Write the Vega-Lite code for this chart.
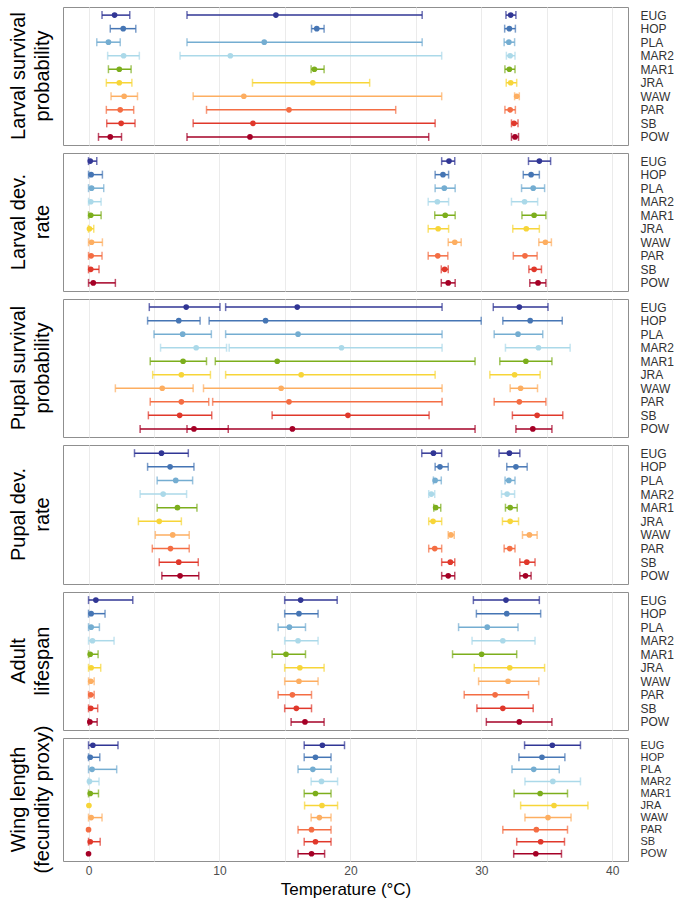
{
  "$schema": "https://vega.github.io/schema/vega-lite/v6.json",
  "padding": {"left": 8, "top": 6, "right": 0, "bottom": 0},
  "spacing": 8,
  "bounds": "flush",
  "config": {
    "font": "Liberation Sans",
    "view": {"stroke": "#8f8f8f", "strokeWidth": 1},
    "title": {"fontWeight": "normal", "color": "#000000", "fontSize": 20, "lineHeight": 24, "font": "Liberation Sans"}
  },
  "data": {"values": [
    {"p":"LS","pop":"EUG","lo":1.03,"mid":1.99,"hi":3.15},{"p":"LS","pop":"EUG","lo":7.52,"mid":14.31,"hi":25.48},{"p":"LS","pop":"EUG","lo":31.88,"mid":32.24,"hi":32.64},
    {"p":"LS","pop":"HOP","lo":1.66,"mid":2.65,"hi":3.61},{"p":"LS","pop":"HOP","lo":17.03,"mid":17.43,"hi":17.99},{"p":"LS","pop":"HOP","lo":31.78,"mid":32.14,"hi":32.6},
    {"p":"LS","pop":"PLA","lo":0.63,"mid":1.52,"hi":2.42},{"p":"LS","pop":"PLA","lo":7.52,"mid":13.42,"hi":25.48},{"p":"LS","pop":"PLA","lo":31.74,"mid":32.1,"hi":32.54},
    {"p":"LS","pop":"MAR2","lo":1.46,"mid":2.68,"hi":3.88},{"p":"LS","pop":"MAR2","lo":6.99,"mid":10.83,"hi":26.97},{"p":"LS","pop":"MAR2","lo":31.91,"mid":32.2,"hi":32.57},
    {"p":"LS","pop":"MAR1","lo":1.52,"mid":2.35,"hi":3.25},{"p":"LS","pop":"MAR1","lo":17.0,"mid":17.25,"hi":17.99},{"p":"LS","pop":"MAR1","lo":31.8,"mid":32.14,"hi":32.57},
    {"p":"LS","pop":"JRA","lo":1.36,"mid":2.35,"hi":3.31},{"p":"LS","pop":"JRA","lo":12.52,"mid":17.13,"hi":21.47},{"p":"LS","pop":"JRA","lo":31.9,"mid":32.24,"hi":32.7},
    {"p":"LS","pop":"WAW","lo":1.72,"mid":2.72,"hi":3.74},{"p":"LS","pop":"WAW","lo":7.99,"mid":11.86,"hi":26.97},{"p":"LS","pop":"WAW","lo":32.54,"mid":32.7,"hi":32.9},
    {"p":"LS","pop":"PAR","lo":1.36,"mid":2.42,"hi":3.45},{"p":"LS","pop":"PAR","lo":9.01,"mid":15.31,"hi":23.46},{"p":"LS","pop":"PAR","lo":31.8,"mid":32.2,"hi":32.6},
    {"p":"LS","pop":"SB","lo":1.39,"mid":2.49,"hi":3.55},{"p":"LS","pop":"SB","lo":7.99,"mid":12.56,"hi":26.47},{"p":"LS","pop":"SB","lo":32.3,"mid":32.5,"hi":32.8},
    {"p":"LS","pop":"POW","lo":0.76,"mid":1.66,"hi":2.52},{"p":"LS","pop":"POW","lo":7.52,"mid":12.33,"hi":25.98},{"p":"LS","pop":"POW","lo":32.3,"mid":32.57,"hi":32.84},

    {"p":"LD","pop":"EUG","lo":0,"mid":0.13,"hi":0.63},{"p":"LD","pop":"EUG","lo":26.97,"mid":27.53,"hi":27.97},{"p":"LD","pop":"EUG","lo":33.6,"mid":34.43,"hi":35.29},
    {"p":"LD","pop":"HOP","lo":0,"mid":0.2,"hi":1.06},{"p":"LD","pop":"HOP","lo":26.47,"mid":27.07,"hi":27.5},{"p":"LD","pop":"HOP","lo":33.2,"mid":33.8,"hi":34.43},
    {"p":"LD","pop":"PLA","lo":0,"mid":0.23,"hi":1.16},{"p":"LD","pop":"PLA","lo":26.47,"mid":27.17,"hi":28.0},{"p":"LD","pop":"PLA","lo":33.07,"mid":33.96,"hi":34.83},
    {"p":"LD","pop":"MAR2","lo":0,"mid":0.17,"hi":0.96},{"p":"LD","pop":"MAR2","lo":25.94,"mid":26.64,"hi":27.5},{"p":"LD","pop":"MAR2","lo":32.3,"mid":33.3,"hi":34.3},
    {"p":"LD","pop":"MAR1","lo":0,"mid":0.17,"hi":0.96},{"p":"LD","pop":"MAR1","lo":26.44,"mid":27.24,"hi":28.0},{"p":"LD","pop":"MAR1","lo":33.1,"mid":34.03,"hi":34.93},
    {"p":"LD","pop":"JRA","lo":0,"mid":0.07,"hi":0.4},{"p":"LD","pop":"JRA","lo":25.94,"mid":26.7,"hi":27.5},{"p":"LD","pop":"JRA","lo":32.4,"mid":33.43,"hi":34.43},
    {"p":"LD","pop":"WAW","lo":0,"mid":0.23,"hi":1.06},{"p":"LD","pop":"WAW","lo":27.47,"mid":27.97,"hi":28.46},{"p":"LD","pop":"WAW","lo":34.39,"mid":34.89,"hi":35.35},
    {"p":"LD","pop":"PAR","lo":0,"mid":0.2,"hi":1.03},{"p":"LD","pop":"PAR","lo":25.94,"mid":26.67,"hi":27.44},{"p":"LD","pop":"PAR","lo":32.44,"mid":33.33,"hi":34.26},
    {"p":"LD","pop":"SB","lo":0,"mid":0.17,"hi":0.8},{"p":"LD","pop":"SB","lo":26.94,"mid":27.2,"hi":27.47},{"p":"LD","pop":"SB","lo":33.63,"mid":34.03,"hi":34.59},
    {"p":"LD","pop":"POW","lo":0,"mid":0.36,"hi":2.05},{"p":"LD","pop":"POW","lo":26.94,"mid":27.47,"hi":28.0},{"p":"LD","pop":"POW","lo":33.7,"mid":34.33,"hi":34.93},

    {"p":"PS","pop":"EUG","lo":4.64,"mid":7.46,"hi":10.04},{"p":"PS","pop":"EUG","lo":10.47,"mid":15.94,"hi":27.0},{"p":"PS","pop":"EUG","lo":30.91,"mid":32.9,"hi":35.09},
    {"p":"PS","pop":"HOP","lo":4.51,"mid":6.89,"hi":8.52},{"p":"PS","pop":"HOP","lo":9.21,"mid":13.52,"hi":29.99},{"p":"PS","pop":"HOP","lo":31.64,"mid":33.73,"hi":36.18},
    {"p":"PS","pop":"PLA","lo":5.0,"mid":7.19,"hi":9.38},{"p":"PS","pop":"PLA","lo":10.47,"mid":16.0,"hi":27.0},{"p":"PS","pop":"PLA","lo":30.98,"mid":32.8,"hi":34.69},
    {"p":"PS","pop":"MAR2","lo":5.5,"mid":8.22,"hi":10.54},{"p":"PS","pop":"MAR2","lo":10.74,"mid":19.32,"hi":27.0},{"p":"PS","pop":"MAR2","lo":31.84,"mid":34.36,"hi":36.78},
    {"p":"PS","pop":"MAR1","lo":4.71,"mid":7.22,"hi":9.01},{"p":"PS","pop":"MAR1","lo":9.68,"mid":14.41,"hi":29.52},{"p":"PS","pop":"MAR1","lo":31.41,"mid":33.4,"hi":35.39},
    {"p":"PS","pop":"JRA","lo":4.9,"mid":7.09,"hi":9.31},{"p":"PS","pop":"JRA","lo":10.47,"mid":16.24,"hi":26.47},{"p":"PS","pop":"JRA","lo":30.65,"mid":32.54,"hi":34.49},
    {"p":"PS","pop":"WAW","lo":2.05,"mid":5.63,"hi":7.99},{"p":"PS","pop":"WAW","lo":8.78,"mid":14.71,"hi":27.0},{"p":"PS","pop":"WAW","lo":32.2,"mid":33.0,"hi":34.29},
    {"p":"PS","pop":"PAR","lo":4.71,"mid":7.09,"hi":9.18},{"p":"PS","pop":"PAR","lo":9.48,"mid":15.31,"hi":27.0},{"p":"PS","pop":"PAR","lo":30.98,"mid":32.9,"hi":34.93},
    {"p":"PS","pop":"SB","lo":4.57,"mid":6.96,"hi":9.41},{"p":"PS","pop":"SB","lo":14.02,"mid":19.81,"hi":26.01},{"p":"PS","pop":"SB","lo":32.37,"mid":34.26,"hi":36.22},
    {"p":"PS","pop":"POW","lo":3.94,"mid":8.05,"hi":10.67},{"p":"PS","pop":"POW","lo":7.52,"mid":15.57,"hi":29.52},{"p":"PS","pop":"POW","lo":32.64,"mid":33.93,"hi":35.39},

    {"p":"PD","pop":"EUG","lo":3.51,"mid":5.57,"hi":7.62},{"p":"PD","pop":"EUG","lo":25.45,"mid":26.34,"hi":26.97},{"p":"PD","pop":"EUG","lo":31.35,"mid":32.14,"hi":32.94},
    {"p":"PD","pop":"HOP","lo":4.51,"mid":6.23,"hi":8.05},{"p":"PD","pop":"HOP","lo":26.47,"mid":26.84,"hi":27.47},{"p":"PD","pop":"HOP","lo":31.94,"mid":32.64,"hi":33.5},
    {"p":"PD","pop":"PLA","lo":5.24,"mid":6.66,"hi":7.95},{"p":"PD","pop":"PLA","lo":26.34,"mid":26.47,"hi":26.94},{"p":"PD","pop":"PLA","lo":31.81,"mid":32.1,"hi":32.57},
    {"p":"PD","pop":"MAR2","lo":3.94,"mid":5.7,"hi":7.49},{"p":"PD","pop":"MAR2","lo":25.98,"mid":26.18,"hi":26.44},{"p":"PD","pop":"MAR2","lo":31.54,"mid":31.97,"hi":32.54},
    {"p":"PD","pop":"MAR1","lo":5.24,"mid":6.79,"hi":8.28},{"p":"PD","pop":"MAR1","lo":26.37,"mid":26.51,"hi":26.9},{"p":"PD","pop":"MAR1","lo":31.84,"mid":32.2,"hi":32.74},
    {"p":"PD","pop":"JRA","lo":3.81,"mid":5.4,"hi":7.09},{"p":"PD","pop":"JRA","lo":25.98,"mid":26.31,"hi":26.97},{"p":"PD","pop":"JRA","lo":31.61,"mid":32.2,"hi":32.84},
    {"p":"PD","pop":"WAW","lo":5.1,"mid":6.43,"hi":7.69},{"p":"PD","pop":"WAW","lo":27.47,"mid":27.67,"hi":27.93},{"p":"PD","pop":"WAW","lo":33.14,"mid":33.67,"hi":34.26},
    {"p":"PD","pop":"PAR","lo":4.87,"mid":6.26,"hi":7.69},{"p":"PD","pop":"PAR","lo":25.98,"mid":26.44,"hi":26.97},{"p":"PD","pop":"PAR","lo":31.74,"mid":32.17,"hi":32.57},
    {"p":"PD","pop":"SB","lo":5.4,"mid":6.89,"hi":8.38},{"p":"PD","pop":"SB","lo":26.97,"mid":27.63,"hi":27.97},{"p":"PD","pop":"SB","lo":32.94,"mid":33.47,"hi":34.1},
    {"p":"PD","pop":"POW","lo":5.6,"mid":6.99,"hi":8.42},{"p":"PD","pop":"POW","lo":26.97,"mid":27.47,"hi":27.97},{"p":"PD","pop":"POW","lo":32.94,"mid":33.37,"hi":33.8},

    {"p":"AL","pop":"EUG","lo":0,"mid":0.56,"hi":3.38},{"p":"AL","pop":"EUG","lo":14.98,"mid":16.2,"hi":18.99},{"p":"AL","pop":"EUG","lo":29.39,"mid":31.88,"hi":34.43},
    {"p":"AL","pop":"HOP","lo":0,"mid":0.2,"hi":1.26},{"p":"AL","pop":"HOP","lo":14.98,"mid":16.07,"hi":17.53},{"p":"AL","pop":"HOP","lo":29.62,"mid":31.94,"hi":34.53},
    {"p":"AL","pop":"PLA","lo":0,"mid":0.2,"hi":0.83},{"p":"AL","pop":"PLA","lo":14.48,"mid":15.34,"hi":16.57},{"p":"AL","pop":"PLA","lo":28.26,"mid":30.45,"hi":32.8},
    {"p":"AL","pop":"MAR2","lo":0,"mid":0.3,"hi":1.95},{"p":"AL","pop":"MAR2","lo":14.98,"mid":16.0,"hi":17.53},{"p":"AL","pop":"MAR2","lo":29.29,"mid":31.64,"hi":34.1},
    {"p":"AL","pop":"MAR1","lo":0,"mid":0.13,"hi":0.73},{"p":"AL","pop":"MAR1","lo":14.02,"mid":15.08,"hi":16.57},{"p":"AL","pop":"MAR1","lo":27.8,"mid":30.02,"hi":32.7},
    {"p":"AL","pop":"JRA","lo":0,"mid":0.2,"hi":0.93},{"p":"AL","pop":"JRA","lo":14.98,"mid":16.14,"hi":17.99},{"p":"AL","pop":"JRA","lo":29.46,"mid":32.17,"hi":34.83},
    {"p":"AL","pop":"WAW","lo":0,"mid":0.17,"hi":0.43},{"p":"AL","pop":"WAW","lo":14.98,"mid":16.07,"hi":17.53},{"p":"AL","pop":"WAW","lo":29.79,"mid":32.04,"hi":34.39},
    {"p":"AL","pop":"PAR","lo":0,"mid":0.17,"hi":0.43},{"p":"AL","pop":"PAR","lo":14.48,"mid":15.57,"hi":17.03},{"p":"AL","pop":"PAR","lo":28.69,"mid":31.05,"hi":33.6},
    {"p":"AL","pop":"SB","lo":0,"mid":0.17,"hi":0.7},{"p":"AL","pop":"SB","lo":14.98,"mid":15.87,"hi":17.03},{"p":"AL","pop":"SB","lo":29.66,"mid":31.64,"hi":33.96},
    {"p":"AL","pop":"POW","lo":0,"mid":0.1,"hi":0.66},{"p":"AL","pop":"POW","lo":15.47,"mid":16.53,"hi":17.99},{"p":"AL","pop":"POW","lo":30.38,"mid":32.9,"hi":35.39},

    {"p":"WL","pop":"EUG","lo":0,"mid":0.33,"hi":2.25},{"p":"WL","pop":"EUG","lo":16.47,"mid":17.86,"hi":19.55},{"p":"WL","pop":"EUG","lo":33.3,"mid":35.42,"hi":37.57},
    {"p":"WL","pop":"HOP","lo":0,"mid":0.13,"hi":0.86},{"p":"WL","pop":"HOP","lo":16.47,"mid":17.33,"hi":18.52},{"p":"WL","pop":"HOP","lo":32.87,"mid":34.63,"hi":36.38},
    {"p":"WL","pop":"PLA","lo":0,"mid":0.27,"hi":2.15},{"p":"WL","pop":"PLA","lo":16.0,"mid":17.13,"hi":18.52},{"p":"WL","pop":"PLA","lo":32.34,"mid":34.0,"hi":35.95},
    {"p":"WL","pop":"MAR2","lo":0,"mid":0.07,"hi":0.8},{"p":"WL","pop":"MAR2","lo":17.0,"mid":17.79,"hi":19.02},{"p":"WL","pop":"MAR2","lo":33.33,"mid":35.46,"hi":37.57},
    {"p":"WL","pop":"MAR1","lo":0,"mid":0.13,"hi":0.76},{"p":"WL","pop":"MAR1","lo":16.47,"mid":17.33,"hi":18.52},{"p":"WL","pop":"MAR1","lo":32.5,"mid":34.49,"hi":36.58},
    {"p":"WL","pop":"JRA","lo":null,"mid":0.03,"hi":null},{"p":"WL","pop":"JRA","lo":16.5,"mid":17.83,"hi":19.02},{"p":"WL","pop":"JRA","lo":33.0,"mid":35.55,"hi":38.14},
    {"p":"WL","pop":"WAW","lo":0,"mid":0.2,"hi":1.03},{"p":"WL","pop":"WAW","lo":17.0,"mid":17.63,"hi":18.52},{"p":"WL","pop":"WAW","lo":33.33,"mid":35.09,"hi":36.85},
    {"p":"WL","pop":"PAR","lo":null,"mid":0.0,"hi":null},{"p":"WL","pop":"PAR","lo":16.0,"mid":17.03,"hi":18.52},{"p":"WL","pop":"PAR","lo":31.64,"mid":34.2,"hi":36.58},
    {"p":"WL","pop":"SB","lo":0,"mid":0.13,"hi":0.89},{"p":"WL","pop":"SB","lo":16.47,"mid":17.33,"hi":18.52},{"p":"WL","pop":"SB","lo":32.7,"mid":34.53,"hi":36.35},
    {"p":"WL","pop":"POW","lo":null,"mid":0.0,"hi":null},{"p":"WL","pop":"POW","lo":16.0,"mid":17.03,"hi":18.03},{"p":"WL","pop":"POW","lo":32.47,"mid":34.16,"hi":36.12}
  ]},
  "vconcat": [
    {
      "width": 565, "height": 138,
      "title": {"text": ["Larval survival", "probability"], "orient": "left", "anchor": "middle", "offset": 10},
      "transform": [{"filter": "datum.p === 'LS'"}],
      "encoding": {
        "y": {"field": "pop", "type": "nominal", "sort": ["EUG","HOP","PLA","MAR2","MAR1","JRA","WAW","PAR","SB","POW"], "scale": {"type": "point", "padding": 0.6}, "axis": {"orient": "right", "title": null, "ticks": false, "domain": false, "labelPadding": 12, "labelFontSize": 12, "labelColor": "#333333", "gridColor": "#ebebeb", "gridWidth": 1}},
        "color": {"field": "pop", "type": "nominal", "legend": null, "scale": {"domain": ["EUG","HOP","PLA","MAR2","MAR1","JRA","WAW","PAR","SB","POW"], "range": ["#313695","#4575b4","#74add1","#abd9e9","#7cae1c","#f7d538","#fdae61","#f46d43","#e0382b","#a50026"]}}
      },
      "layer": [
        {"mark": {"type": "rule", "strokeWidth": 1.5}, "encoding": {"x": {"field": "lo", "type": "quantitative", "scale": {"domain": [-1.95, 41.2], "nice": false, "zero": false}, "axis": {"values": [0,5,10,15,20,25,30,35,40], "labels": false, "ticks": false, "domain": false, "title": null, "gridColor": "#ebebeb", "gridWidth": 1}}, "x2": {"field": "hi"}}},
        {"mark": {"type": "tick", "size": 8, "thickness": 1.5}, "encoding": {"x": {"field": "lo", "type": "quantitative"}}},
        {"mark": {"type": "tick", "size": 8, "thickness": 1.5}, "encoding": {"x": {"field": "hi", "type": "quantitative"}}},
        {"mark": {"type": "circle", "size": 32, "opacity": 1}, "encoding": {"x": {"field": "mid", "type": "quantitative"}}}
      ]
    },
    {
      "width": 565, "height": 138,
      "title": {"text": ["Larval dev.", "rate"], "orient": "left", "anchor": "middle", "offset": 10},
      "transform": [{"filter": "datum.p === 'LD'"}],
      "encoding": {
        "y": {"field": "pop", "type": "nominal", "sort": ["EUG","HOP","PLA","MAR2","MAR1","JRA","WAW","PAR","SB","POW"], "scale": {"type": "point", "padding": 0.6}, "axis": {"orient": "right", "title": null, "ticks": false, "domain": false, "labelPadding": 12, "labelFontSize": 12, "labelColor": "#333333", "gridColor": "#ebebeb", "gridWidth": 1}},
        "color": {"field": "pop", "type": "nominal", "legend": null, "scale": {"domain": ["EUG","HOP","PLA","MAR2","MAR1","JRA","WAW","PAR","SB","POW"], "range": ["#313695","#4575b4","#74add1","#abd9e9","#7cae1c","#f7d538","#fdae61","#f46d43","#e0382b","#a50026"]}}
      },
      "layer": [
        {"mark": {"type": "rule", "strokeWidth": 1.5}, "encoding": {"x": {"field": "lo", "type": "quantitative", "scale": {"domain": [-1.95, 41.2], "nice": false, "zero": false}, "axis": {"values": [0,5,10,15,20,25,30,35,40], "labels": false, "ticks": false, "domain": false, "title": null, "gridColor": "#ebebeb", "gridWidth": 1}}, "x2": {"field": "hi"}}},
        {"mark": {"type": "tick", "size": 8, "thickness": 1.5}, "encoding": {"x": {"field": "lo", "type": "quantitative"}}},
        {"mark": {"type": "tick", "size": 8, "thickness": 1.5}, "encoding": {"x": {"field": "hi", "type": "quantitative"}}},
        {"mark": {"type": "circle", "size": 32, "opacity": 1}, "encoding": {"x": {"field": "mid", "type": "quantitative"}}}
      ]
    },
    {
      "width": 565, "height": 138,
      "title": {"text": ["Pupal survival", "probability"], "orient": "left", "anchor": "middle", "offset": 10},
      "transform": [{"filter": "datum.p === 'PS'"}],
      "encoding": {
        "y": {"field": "pop", "type": "nominal", "sort": ["EUG","HOP","PLA","MAR2","MAR1","JRA","WAW","PAR","SB","POW"], "scale": {"type": "point", "padding": 0.6}, "axis": {"orient": "right", "title": null, "ticks": false, "domain": false, "labelPadding": 12, "labelFontSize": 12, "labelColor": "#333333", "gridColor": "#ebebeb", "gridWidth": 1}},
        "color": {"field": "pop", "type": "nominal", "legend": null, "scale": {"domain": ["EUG","HOP","PLA","MAR2","MAR1","JRA","WAW","PAR","SB","POW"], "range": ["#313695","#4575b4","#74add1","#abd9e9","#7cae1c","#f7d538","#fdae61","#f46d43","#e0382b","#a50026"]}}
      },
      "layer": [
        {"mark": {"type": "rule", "strokeWidth": 1.5}, "encoding": {"x": {"field": "lo", "type": "quantitative", "scale": {"domain": [-1.95, 41.2], "nice": false, "zero": false}, "axis": {"values": [0,5,10,15,20,25,30,35,40], "labels": false, "ticks": false, "domain": false, "title": null, "gridColor": "#ebebeb", "gridWidth": 1}}, "x2": {"field": "hi"}}},
        {"mark": {"type": "tick", "size": 8, "thickness": 1.5}, "encoding": {"x": {"field": "lo", "type": "quantitative"}}},
        {"mark": {"type": "tick", "size": 8, "thickness": 1.5}, "encoding": {"x": {"field": "hi", "type": "quantitative"}}},
        {"mark": {"type": "circle", "size": 32, "opacity": 1}, "encoding": {"x": {"field": "mid", "type": "quantitative"}}}
      ]
    },
    {
      "width": 565, "height": 139,
      "title": {"text": ["Pupal dev.", "rate"], "orient": "left", "anchor": "middle", "offset": 10},
      "transform": [{"filter": "datum.p === 'PD'"}],
      "encoding": {
        "y": {"field": "pop", "type": "nominal", "sort": ["EUG","HOP","PLA","MAR2","MAR1","JRA","WAW","PAR","SB","POW"], "scale": {"type": "point", "padding": 0.6}, "axis": {"orient": "right", "title": null, "ticks": false, "domain": false, "labelPadding": 12, "labelFontSize": 12, "labelColor": "#333333", "gridColor": "#ebebeb", "gridWidth": 1}},
        "color": {"field": "pop", "type": "nominal", "legend": null, "scale": {"domain": ["EUG","HOP","PLA","MAR2","MAR1","JRA","WAW","PAR","SB","POW"], "range": ["#313695","#4575b4","#74add1","#abd9e9","#7cae1c","#f7d538","#fdae61","#f46d43","#e0382b","#a50026"]}}
      },
      "layer": [
        {"mark": {"type": "rule", "strokeWidth": 1.5}, "encoding": {"x": {"field": "lo", "type": "quantitative", "scale": {"domain": [-1.95, 41.2], "nice": false, "zero": false}, "axis": {"values": [0,5,10,15,20,25,30,35,40], "labels": false, "ticks": false, "domain": false, "title": null, "gridColor": "#ebebeb", "gridWidth": 1}}, "x2": {"field": "hi"}}},
        {"mark": {"type": "tick", "size": 8, "thickness": 1.5}, "encoding": {"x": {"field": "lo", "type": "quantitative"}}},
        {"mark": {"type": "tick", "size": 8, "thickness": 1.5}, "encoding": {"x": {"field": "hi", "type": "quantitative"}}},
        {"mark": {"type": "circle", "size": 32, "opacity": 1}, "encoding": {"x": {"field": "mid", "type": "quantitative"}}}
      ]
    },
    {
      "width": 565, "height": 138,
      "title": {"text": ["Adult", "lifespan"], "orient": "left", "anchor": "middle", "offset": 10},
      "transform": [{"filter": "datum.p === 'AL'"}],
      "encoding": {
        "y": {"field": "pop", "type": "nominal", "sort": ["EUG","HOP","PLA","MAR2","MAR1","JRA","WAW","PAR","SB","POW"], "scale": {"type": "point", "padding": 0.6}, "axis": {"orient": "right", "title": null, "ticks": false, "domain": false, "labelPadding": 12, "labelFontSize": 12, "labelColor": "#333333", "gridColor": "#ebebeb", "gridWidth": 1}},
        "color": {"field": "pop", "type": "nominal", "legend": null, "scale": {"domain": ["EUG","HOP","PLA","MAR2","MAR1","JRA","WAW","PAR","SB","POW"], "range": ["#313695","#4575b4","#74add1","#abd9e9","#7cae1c","#f7d538","#fdae61","#f46d43","#e0382b","#a50026"]}}
      },
      "layer": [
        {"mark": {"type": "rule", "strokeWidth": 1.5}, "encoding": {"x": {"field": "lo", "type": "quantitative", "scale": {"domain": [-1.95, 41.2], "nice": false, "zero": false}, "axis": {"values": [0,5,10,15,20,25,30,35,40], "labels": false, "ticks": false, "domain": false, "title": null, "gridColor": "#ebebeb", "gridWidth": 1}}, "x2": {"field": "hi"}}},
        {"mark": {"type": "tick", "size": 8, "thickness": 1.5}, "encoding": {"x": {"field": "lo", "type": "quantitative"}}},
        {"mark": {"type": "tick", "size": 8, "thickness": 1.5}, "encoding": {"x": {"field": "hi", "type": "quantitative"}}},
        {"mark": {"type": "circle", "size": 32, "opacity": 1}, "encoding": {"x": {"field": "mid", "type": "quantitative"}}}
      ]
    },
    {
      "width": 565, "height": 123,
      "title": {"text": ["Wing length", "(fecundity proxy)"], "orient": "left", "anchor": "middle", "offset": 10},
      "transform": [{"filter": "datum.p === 'WL'"}],
      "encoding": {
        "y": {"field": "pop", "type": "nominal", "sort": ["EUG","HOP","PLA","MAR2","MAR1","JRA","WAW","PAR","SB","POW"], "scale": {"type": "point", "padding": 0.6}, "axis": {"orient": "right", "title": null, "ticks": false, "domain": false, "labelPadding": 12, "labelFontSize": 11, "labelColor": "#333333", "gridColor": "#ebebeb", "gridWidth": 1}},
        "color": {"field": "pop", "type": "nominal", "legend": null, "scale": {"domain": ["EUG","HOP","PLA","MAR2","MAR1","JRA","WAW","PAR","SB","POW"], "range": ["#313695","#4575b4","#74add1","#abd9e9","#7cae1c","#f7d538","#fdae61","#f46d43","#e0382b","#a50026"]}}
      },
      "layer": [
        {"mark": {"type": "rule", "strokeWidth": 1.5}, "encoding": {"x": {"field": "lo", "type": "quantitative", "scale": {"domain": [-1.95, 41.2], "nice": false, "zero": false}, "axis": {"values": [0,5,10,15,20,25,30,35,40], "labelExpr": "datum.value % 10 === 0 ? datum.label : ''", "ticks": false, "domain": false, "title": "Temperature (°C)", "titleFontSize": 17, "titleFontWeight": "normal", "titleColor": "#000000", "titlePadding": 5, "labelFontSize": 12, "labelColor": "#4d4d4d", "labelPadding": 4, "gridColor": "#ebebeb", "gridWidth": 1}}, "x2": {"field": "hi"}}},
        {"mark": {"type": "tick", "size": 8, "thickness": 1.5}, "encoding": {"x": {"field": "lo", "type": "quantitative"}}},
        {"mark": {"type": "tick", "size": 8, "thickness": 1.5}, "encoding": {"x": {"field": "hi", "type": "quantitative"}}},
        {"mark": {"type": "circle", "size": 32, "opacity": 1}, "encoding": {"x": {"field": "mid", "type": "quantitative"}}}
      ]
    }
  ]
}
